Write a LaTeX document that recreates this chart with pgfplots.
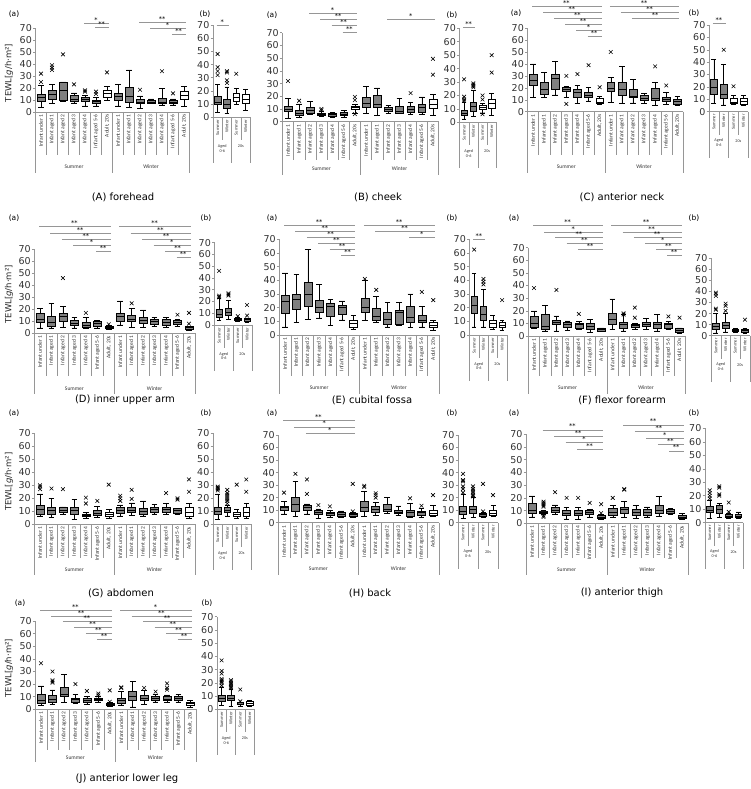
\documentclass[border=0pt]{standalone}
\usepackage{fontspec}
\setmainfont{DejaVu Sans}
\newfontfamily\catfont{Carlito}
\usepackage{pgfplots}
\pgfplotsset{compat=1.18}
\usepgfplotslibrary{statistics}
\definecolor{boxgray}{RGB}{128,128,128}
\definecolor{axgray}{RGB}{150,150,150}
\pgfplotsset{
  pan/.style={scale only axis, anchor=south west, ymin=0, ymax=70, ytick={0,10,...,70}, xtick=\empty,
    axis x line*=bottom, axis y line*=left, axis line style={axgray, line width=0.5pt, -},
    tick style={axgray, line width=0.5pt}, tick align=outside, major tick length=2.5pt,
    yticklabel style={font=\fontsize{9.5}{10}\selectfont, text=black!80, inner sep=1pt},
    /pgf/number format/assume math mode=true, clip=false, xmin=-0.5},
  panA/.style={pan, xmax=13.5},
  panB/.style={pan, xmax=3.5},
  boxplot/draw direction=y,
  boxplot/box extend=0.7, boxplot/whisker extend=0.5,
  gb/.style={draw=black, fill=boxgray, line width=0.45pt, mark=x, mark size=2.6pt, mark options={solid, draw=black, line width=0.6pt}},
  wb/.style={draw=black, fill=white, line width=0.45pt, mark=x, mark size=2.6pt, mark options={solid, draw=black, line width=0.6pt}},
}
\newcommand\bp[8]{\addplot[#7, boxplot prepared={draw position=#1, lower whisker=#2, lower quartile=#3, median=#4, upper quartile=#5, upper whisker=#6}] table[row sep=\\, y index=0] {v\\ #8};}
\newcommand\bpn[7]{\addplot[#7, boxplot prepared={draw position=#1, lower whisker=#2, lower quartile=#3, median=#4, upper quartile=#5, upper whisker=#6}] coordinates {};}
\newcommand\sig[4]{\draw[axgray, line width=0.5pt, shorten <=-1pt, shorten >=-2pt] (axis cs:#1,#3) -- node[above, inner sep=0.6pt, font=\fontsize{6.5}{6.5}\selectfont, text=black] {#4} (axis cs:#2,#3);}
\tikzset{
  catlab/.style={rotate=90, anchor=east, font=\catfont\fontsize{5.5}{6}\selectfont, inner sep=0.5pt, text=black!80},
  catlabB/.style={rotate=90, anchor=east, font=\catfont\fontsize{4.5}{5}\selectfont, inner sep=0.5pt, text=black!80},
  grplab/.style={font=\catfont\fontsize{5.5}{6}\selectfont, text=black!80, inner sep=0.5pt},
  grplabB/.style={font=\catfont\fontsize{4.2}{4.6}\selectfont, text=black!80, inner sep=0.5pt, align=center},
  ttl/.style={font=\fontsize{10}{11}\selectfont},
  sub/.style={font=\fontsize{7.5}{8}\selectfont},
}
% #1 xL, #2 pitch, #3 y0, #4 sep length, #5 group label offset, #6 group sep length
\newcommand\decoA[6]{%
  \foreach \k in {1,2,3,4,5,6,8,9,10,11,12,13} \draw[axgray, line width=0.4pt] ({#1+\k*#2},#3) -- ({#1+\k*#2},{#3+#4});
  \foreach \k in {0,7,14} \draw[axgray, line width=0.4pt] ({#1+\k*#2},#3) -- ({#1+\k*#2},{#3+#6});
  \foreach \t [count=\k from 0] in {Infant under 1,Infant aged 1,Infant aged 2,Infant aged 3,Infant aged 4,Infant aged 5-6,{Adult, 20s}} {
    \node[catlab] at ({#1+(\k+0.5)*#2},{#3+2}) {\t};
    \node[catlab] at ({#1+(\k+7.5)*#2},{#3+2}) {\t};
  }
  \node[grplab] at ({#1+3.5*#2},{#3+#5}) {Summer};
  \node[grplab] at ({#1+10.5*#2},{#3+#5}) {Winter};
}
\newcommand\decoB[3]{%
  \foreach \k in {1,3} \draw[axgray, line width=0.4pt] ({#1+\k*#2},#3) -- ({#1+\k*#2},{#3+23});
  \foreach \k in {0,2,4} \draw[axgray, line width=0.4pt] ({#1+\k*#2},#3) -- ({#1+\k*#2},{#3+46});
  \foreach \k in {0,2} {
    \node[catlabB] at ({#1+(\k+0.5)*#2},{#3+2}) {Summer};
    \node[catlabB] at ({#1+(\k+1.5)*#2},{#3+2}) {Winter};
  }
  \node[grplabB] at ({#1+1*#2},{#3+31}) {Aged\\0-6};
  \node[grplabB] at ({#1+3*#2},{#3+29}) {20s};
}
\newcommand\ylab[2]{\node[rotate=90, font=\fontsize{8.5}{9}\selectfont, text=black!85] at (9,{(#1+#2)/2+3}) {TEWL[\textit{g}/h·m²]};}
\begin{document}
\begin{tikzpicture}
\useasboundingbox (0pt,0pt) rectangle (750pt,789pt);
\begin{scope}[shift={(0pt,789pt)}, x=1pt, y=-1pt]
  \decoA{35.5}{11}{112}{43}{55}{61}
  \decoA{282.4}{11.15}{121.7}{38}{47}{53}
  \decoA{527.5}{11.1}{111.7}{43}{55}{61}
  \decoB{213}{9.3}{117.3}
  \decoB{459.5}{9.2}{122.3}
  \decoB{709}{9.8}{111.7}
  \decoA{34.3}{11.46}{333.3}{43}{55}{61}
  \decoA{279.3}{11.4}{335}{41}{53}{59}
  \decoA{528.4}{11.2}{336}{40}{52}{58}
  \decoB{214.5}{9.3}{325}
  \decoB{469.5}{9.3}{335}
  \decoB{711}{9.7}{335.7}
  \decoA{34.3}{11.46}{524.3}{34}{45}{51}
  \decoA{278.3}{11.46}{522.7}{35}{46}{52}
  \decoA{526.2}{11.54}{523.3}{35}{46}{52}
  \decoB{213}{9.5}{524.3}
  \decoB{458}{10}{522.7}
  \decoB{705}{9.5}{522.7}
  \decoA{35.3}{11.46}{709.3}{41}{48}{53}
  \decoB{217}{9.3}{709.3}
  \ylab{112}{28}
  \ylab{333.3}{249.3}
  \ylab{524.3}{433.3}
  \ylab{709.3}{621}
  \node[ttl] at (123,197) {(A) forehead};
  \node[ttl] at (378,197) {(B) cheek};
  \node[ttl] at (622,197) {(C) anterior neck};
  \node[ttl] at (125,400) {(D) inner upper arm};
  \node[ttl] at (372,400) {(E) cubital fossa};
  \node[ttl] at (622,400) {(F) flexor forearm};
  \node[ttl] at (121,593) {(G) abdomen};
  \node[ttl] at (370,593) {(H) back};
  \node[ttl] at (622,593) {(I) anterior thigh};
  \node[ttl] at (127,779) {(J) anterior lower leg};
  \node[sub] at (14,14) {(a)}; \node[sub] at (205,14) {(b)};
  \node[sub] at (272,15) {(a)}; \node[sub] at (452,15) {(b)};
  \node[sub] at (516,13) {(a)}; \node[sub] at (694,13) {(b)};
  \node[sub] at (14,218) {(a)}; \node[sub] at (206,218) {(b)};
  \node[sub] at (272,218) {(a)}; \node[sub] at (452,218) {(b)};
  \node[sub] at (514,218) {(a)}; \node[sub] at (694,218) {(b)};
  \node[sub] at (14,413) {(a)}; \node[sub] at (206,413) {(b)};
  \node[sub] at (272,413) {(a)}; \node[sub] at (452,413) {(b)};
  \node[sub] at (514,413) {(a)}; \node[sub] at (694,413) {(b)};
  \node[sub] at (20,603) {(a)}; \node[sub] at (207,603) {(b)};
\end{scope}

%================ (A) forehead
\begin{axis}[panA, at={(35.5pt,677pt)}, width=154pt, height=84pt]
\bp{0}{4}{9}{12.5}{15}{22}{gb}{25\\32\\}
\bp{1}{7}{11}{15}{18}{23}{gb}{35\\37\\39\\}
\bp{2}{9}{10}{18}{24.5}{25}{gb}{48\\}
\bp{3}{7.5}{9}{11}{14}{16}{gb}{23\\}
\bp{4}{5}{9}{10.5}{12}{14}{gb}{17\\18\\}
\bp{5}{5}{7.5}{9}{10}{12}{gb}{15\\17\\}
\bp{6}{9.5}{12.5}{15.5}{18}{21.5}{wb}{33\\}
\bpn{7}{5}{9.5}{13}{16}{23}{gb}
\bpn{8}{4}{8.5}{13}{21}{35}{gb}
\bp{9}{3}{7}{8.5}{10.5}{13.5}{gb}{18.5\\}
\bpn{10}{7}{7.5}{8.5}{10}{11}{gb}
\bp{11}{6}{7}{8.5}{11.5}{19.5}{gb}{34\\}
\bp{12}{6}{7.5}{8.5}{10}{11}{gb}{15.5\\}
\bpn{13}{5}{10.5}{14}{17.5}{21.5}{wb}
\sig{4}{6}{74}{*}
\sig{5}{6}{70.5}{**}
\sig{9}{13}{75}{**}
\sig{10}{13}{70}{*}
\sig{12}{13}{65}{**}
\end{axis}
\begin{axis}[panB, at={(213pt,671.7pt)}, width=37.2pt, height=92.3pt]
\bp{0}{4}{10}{11.5}{16}{25}{gb}{32\\35\\38\\48\\}
\bp{1}{3}{7}{10}{14}{23}{gb}{26\\28\\34\\35\\}
\bp{2}{10}{12.5}{15.5}{18}{22}{wb}{33\\}
\bpn{3}{5.5}{10.5}{14}{17.5}{21.5}{wb}
\sig{0}{1}{70}{*}
\end{axis}

%================ (B) cheek
\begin{axis}[panA, at={(282.4pt,667.3pt)}, width=156.1pt, height=89pt]
\bp{0}{2.5}{8}{10}{12}{18.5}{gb}{32\\}
\bp{1}{3.5}{5}{6.5}{9}{14}{gb}{16.5\\}
\bpn{2}{5.5}{7}{9}{11}{16}{gb}
\bp{3}{4.5}{5}{6}{7}{8.5}{gb}{9\\10\\}
\bpn{4}{3.5}{4.5}{5.5}{6.5}{7.5}{gb}
\bpn{5}{3.5}{5}{6}{7.5}{9}{gb}
\bp{6}{7}{9.5}{11}{12.5}{14}{wb}{6\\17\\19.5\\}
\bpn{7}{6.5}{11}{14.5}{19}{28}{gb}
\bpn{8}{5}{11}{14}{21}{26.5}{gb}
\bpn{9}{6.5}{8.5}{10}{11}{13}{gb}
\bpn{10}{7}{7}{8}{12}{18.5}{gb}
\bp{11}{6}{7.5}{10}{12}{15}{gb}{22.5\\}
\bpn{12}{6}{7.5}{11}{14}{19.5}{gb}
\bp{13}{5}{10.5}{14}{17.5}{21.5}{wb}{37\\49.5\\}
\sig{2}{6}{85}{*}
\sig{3}{6}{80.5}{**}
\sig{4}{6}{75.5}{**}
\sig{5}{6}{70}{**}
\sig{9}{13}{80.5}{*}
\end{axis}
\begin{axis}[panB, at={(459.5pt,666.7pt)}, width=36.8pt, height=94pt]
\bp{0}{2.5}{5}{7}{9}{15}{gb}{16\\17\\19\\32\\}
\bp{1}{4.5}{8.5}{12}{15}{24}{gb}{26\\27\\28\\29\\}
\bp{2}{7}{9.5}{11}{12.5}{14}{wb}{6\\17\\20\\}
\bp{3}{5}{10.5}{14}{17.5}{21.5}{wb}{37\\50\\}
\sig{0}{1}{71}{**}
\end{axis}

%================ (C) anterior neck
\begin{axis}[panA, at={(527.5pt,677.3pt)}, width=155.4pt, height=83.5pt]
\bpn{0}{12}{22.5}{26}{31}{40}{gb}
\bpn{1}{12}{15}{19}{25}{33}{gb}
\bpn{2}{14}{19}{28}{31}{42}{gb}
\bp{3}{12}{17}{19}{20.5}{21}{gb}{6.5\\30\\}
\bp{4}{7}{12.5}{16}{19}{22}{gb}{31.5\\}
\bp{5}{9}{12}{14}{16}{20.5}{gb}{39\\}
\bp{6}{6}{7}{8}{11}{13}{wb}{20.5\\}
\bp{7}{8}{17.5}{20}{25}{29}{gb}{50\\}
\bpn{8}{7}{14}{19}{25}{38}{gb}
\bpn{9}{7.5}{12}{13}{18.5}{27}{gb}
\bpn{10}{7}{9.5}{11.5}{14}{15.5}{gb}
\bp{11}{5.5}{9.5}{11}{20}{24.5}{gb}{38\\}
\bp{12}{6}{8.5}{10.5}{12}{16.5}{gb}{22\\}
\bpn{13}{5}{6}{8.5}{10.5}{13}{gb}
\sig{0}{6}{88}{**}
\sig{1}{6}{83}{**}
\sig{2}{6}{78.5}{**}
\sig{3}{6}{73.5}{**}
\sig{4}{6}{68.5}{*}
\sig{5}{6}{63.5}{**}
\sig{7}{13}{88}{**}
\sig{8}{13}{83}{**}
\sig{9}{13}{78.5}{**}
\end{axis}
\begin{axis}[panB, at={(709pt,677.3pt)}, width=39.2pt, height=86.7pt]
\bpn{0}{6.5}{14.5}{19.5}{26}{42}{gb}
\bp{1}{5.5}{10.5}{14.5}{22}{38}{gb}{50\\}
\bp{2}{6}{7}{8}{11}{13}{wb}{20.5\\}
\bpn{3}{5}{6}{8.5}{10.5}{13}{wb}
\sig{0}{1}{71.5}{**}
\end{axis}

%================ (D) inner upper arm
\begin{axis}[panA, at={(34.3pt,455.7pt)}, width=160.4pt, height=84pt]
\bpn{0}{4.5}{9}{12}{17}{21}{gb}
\bpn{1}{4.5}{6}{9}{14}{25}{gb}
\bp{2}{5}{10}{14}{17}{22.5}{gb}{46\\}
\bpn{3}{4.5}{6.5}{8.5}{11}{13}{gb}
\bp{4}{4}{5}{7}{9}{13}{gb}{17\\}
\bpn{5}{4.5}{5.5}{8}{10}{11}{gb}
\bp{6}{3.5}{4}{5}{6}{6.5}{gb}{7.5\\}
\bpn{7}{7}{10}{14}{17}{27}{gb}
\bp{8}{5}{10}{12}{15}{21}{gb}{25\\}
\bpn{9}{5}{8.5}{11}{13}{19.5}{gb}
\bpn{10}{6}{7.5}{10}{11.5}{13.5}{gb}
\bpn{11}{5}{7}{9}{11.5}{13.5}{gb}
\bp{12}{6}{7.5}{9}{10.5}{11.5}{gb}{15.5\\}
\bp{13}{2.5}{3.5}{5}{6}{6}{gb}{8\\17\\}
\sig{0}{6}{89}{**}
\sig{1}{6}{83.5}{**}
\sig{2}{6}{78.5}{**}
\sig{3}{6}{73.5}{*}
\sig{5}{6}{68}{**}
\sig{7}{13}{89}{**}
\sig{8}{13}{83.5}{**}
\sig{9}{13}{78.5}{**}
\sig{10}{13}{73.5}{*}
\sig{11}{13}{68.5}{**}
\sig{12}{13}{63.5}{**}
\end{axis}
\begin{axis}[panB, at={(214.5pt,464pt)}, width=37.2pt, height=82.3pt]
\bp{0}{4}{7}{9}{13}{23}{gb}{23.5\\24\\25\\46\\}
\bp{1}{4.5}{8}{11}{14}{21}{gb}{25\\26\\27\\}
\bp{2}{3.5}{4}{5}{6}{6.5}{gb}{7.5\\}
\bp{3}{2.5}{3.5}{5}{6}{6}{gb}{8\\17\\}
\end{axis}

%================ (E) cubital fossa
\begin{axis}[panA, at={(279.3pt,454pt)}, width=159.6pt, height=95.7pt]
\bpn{0}{6}{16}{25}{29}{45.5}{gb}
\bpn{1}{9}{19}{26}{30}{44.5}{gb}
\bpn{2}{11.5}{21}{30}{38.5}{62.5}{gb}
\bpn{3}{12.5}{16.5}{20}{25.5}{37}{gb}
\bpn{4}{7}{14}{21}{23.5}{26}{gb}
\bpn{5}{11}{15}{20}{22}{25}{gb}
\bpn{6}{4.5}{6}{8.5}{10.5}{14.5}{wb}
\bp{7}{10.5}{17}{20.5}{27}{40}{gb}{41\\}
\bp{8}{9.5}{10.5}{13.5}{19.5}{28.5}{gb}{33\\}
\bpn{9}{6}{8}{11.5}{16.5}{24}{gb}
\bpn{10}{7}{8}{17}{18}{24}{gb}
\bpn{11}{5.5}{9}{13}{21}{30}{gb}
\bp{12}{6}{9.5}{11}{14.5}{21}{gb}{31.5\\}
\bp{13}{3.5}{5.5}{7.5}{9.5}{10.5}{wb}{25.5\\}
\sig{0}{6}{80.5}{**}
\sig{1}{6}{76}{**}
\sig{2}{6}{71.5}{**}
\sig{3}{6}{67}{**}
\sig{4}{6}{62.5}{**}
\sig{5}{6}{58}{**}
\sig{7}{13}{80.5}{**}
\sig{8}{13}{76}{**}
\sig{11}{13}{71.5}{*}
\end{axis}
\begin{axis}[panB, at={(469.5pt,454pt)}, width=37.2pt, height=95.7pt]
\bp{0}{6}{16}{22}{28.5}{45}{gb}{62.5\\}
\bp{1}{6}{10.5}{15}{21}{33.5}{gb}{37\\39\\41\\}
\bpn{2}{4.5}{6}{8.5}{10.5}{14.5}{wb}
\bp{3}{3.5}{5.5}{7.5}{9.5}{10.5}{wb}{25.5\\}
\sig{0}{1}{70}{**}
\end{axis}

%================ (F) flexor forearm
\begin{axis}[panA, at={(528.4pt,453pt)}, width=156.8pt, height=88.3pt]
\bp{0}{6}{7}{10}{16}{20}{gb}{38\\}
\bpn{1}{4}{5.5}{8}{17}{24}{gb}
\bp{2}{4}{9}{11}{12.5}{16}{gb}{36.5\\}
\bpn{3}{4.5}{7}{9}{11}{12}{gb}
\bp{4}{5}{6}{9}{10.5}{11.5}{gb}{17.5\\}
\bpn{5}{3}{5}{7.5}{10.5}{13}{gb}
\bpn{6}{3.5}{4}{5}{6}{6.5}{gb}
\bpn{7}{5.5}{9}{13.5}{18}{29.5}{gb}
\bp{8}{4}{6.5}{9}{11}{17.5}{gb}{17\\18\\}
\bp{9}{5}{7}{8.5}{9}{10}{gb}{14.5\\22.5\\}
\bpn{10}{5.5}{7.5}{9.5}{11}{14}{gb}
\bpn{11}{4}{6.5}{9}{11}{17}{gb}
\bp{12}{5.5}{6.5}{9}{10.5}{11.5}{gb}{15.5\\}
\bp{13}{2.5}{3}{4.5}{6}{6.5}{gb}{14.5\\}
\sig{0}{6}{87.5}{**}
\sig{1}{6}{82.5}{*}
\sig{2}{6}{78}{**}
\sig{3}{6}{73.5}{**}
\sig{4}{6}{68.5}{**}
\sig{7}{13}{87.5}{**}
\sig{8}{13}{82.5}{**}
\sig{9}{13}{78}{**}
\sig{10}{13}{73.5}{*}
\sig{11}{13}{68.5}{**}
\sig{12}{13}{64}{**}
\end{axis}
\begin{axis}[panB, at={(711pt,453.3pt)}, width=38.8pt, height=77.4pt]
\bp{0}{2.5}{6}{9}{11}{20}{gb}{23.5\\24.5\\36\\38\\39\\}
\bp{1}{3.5}{7}{9.5}{12}{20}{gb}{22.5\\27\\29\\}
\bpn{2}{3.5}{4}{5}{6}{6.5}{gb}
\bp{3}{2.5}{3}{4.5}{6}{6.5}{gb}{14.5\\}
\end{axis}

%================ (G) abdomen
\begin{axis}[panA, at={(34.3pt,264.7pt)}, width=160.4pt, height=91pt]
\bp{0}{6.5}{8}{11.5}{15}{23.5}{gb}{27\\29\\30\\}
\bp{1}{5.5}{8}{11}{13.5}{20}{gb}{27.5\\}
\bp{2}{7.5}{9.5}{11}{13}{13.5}{gb}{27\\}
\bpn{3}{4}{7.5}{11}{13.5}{19}{gb}
\bp{4}{4.5}{6}{7}{8}{9}{gb}{16\\20.5\\}
\bp{5}{5.5}{7}{8.5}{11}{14}{gb}{18\\}
\bp{6}{5}{6.5}{8}{9.5}{11.5}{wb}{30.5\\}
\bp{7}{6.5}{8.5}{10.5}{13}{15}{gb}{18\\20\\22\\}
\bp{8}{7}{9}{11}{13}{16.5}{gb}{19.5\\26.5\\}
\bpn{9}{6.5}{8}{10}{12.5}{18}{gb}
\bpn{10}{8}{9.5}{11.5}{13.5}{15.5}{gb}
\bp{11}{7.5}{9}{11.5}{13.5}{16}{gb}{24\\}
\bp{12}{7.5}{8.5}{10.5}{12}{12}{gb}{19\\20\\}
\bp{13}{4.5}{6}{9.5}{13}{16}{wb}{25\\34.5\\}
\end{axis}
\begin{axis}[panB, at={(213pt,264.7pt)}, width=38pt, height=91pt]
\bp{0}{4}{8}{10}{13}{23.5}{gb}{26\\27\\28\\29\\}
\bp{1}{6.5}{9}{11}{13}{15}{gb}{16\\18\\19.5\\21\\22.5\\24\\26.5\\}
\bp{2}{5}{6.5}{8}{9.5}{11.5}{wb}{30.5\\}
\bp{3}{4.5}{6}{9.5}{13}{16}{wb}{25\\34.5\\}
\end{axis}

%================ (H) back
\begin{axis}[panA, at={(278.3pt,266.3pt)}, width=160.4pt, height=87.7pt]
\bp{0}{7}{10}{12}{13.5}{17}{gb}{24\\}
\bp{1}{5}{9}{15}{20}{33}{gb}{39\\}
\bp{2}{7}{10}{12}{14}{15}{gb}{23\\34.5\\}
\bp{3}{3.5}{6.5}{8.5}{10}{11}{gb}{14\\}
\bp{4}{4}{6}{7.5}{8.5}{10}{gb}{13\\}
\bpn{5}{4}{5}{6.5}{8.5}{9.5}{gb}
\bp{6}{4.5}{5.5}{6.5}{7.5}{8}{gb}{9\\31\\}
\bp{7}{5}{9}{12}{17}{25}{gb}{28.5\\29.5\\}
\bp{8}{6}{8.5}{11}{13.5}{16.5}{gb}{20\\22\\23.5\\}
\bpn{9}{7.5}{9}{11}{15}{20}{gb}
\bpn{10}{6}{7.5}{8.5}{10}{13.5}{gb}
\bp{11}{4.5}{5.5}{8}{10}{15.5}{gb}{19.5\\}
\bp{12}{4.5}{6}{8}{9.5}{11.5}{gb}{13.5\\}
\bp{13}{5}{6}{7.5}{10}{14}{wb}{22\\}
\sig{0}{6}{81.5}{**}
\sig{1}{6}{76.5}{*}
\sig{2}{6}{71.5}{*}
\end{axis}
\begin{axis}[panB, at={(458pt,266.3pt)}, width=40pt, height=87.7pt]
\bp{0}{3.5}{7}{9.5}{13}{22.5}{gb}{24\\27\\29\\33\\34\\39\\}
\bp{1}{4.5}{7.5}{10.5}{13.5}{20}{gb}{21\\22\\24\\25.5\\27\\29\\}
\bp{2}{4.5}{5.5}{6.5}{7.5}{8}{gb}{9\\31\\}
\bp{3}{5}{6}{7.5}{10}{14}{wb}{22\\}
\end{axis}

%================ (I) anterior thigh
\begin{axis}[panA, at={(526.2pt,265.7pt)}, width=161.5pt, height=89pt]
\bpn{0}{5}{8}{10}{16}{21.5}{gb}
\bp{1}{7}{8}{9}{9.5}{10}{gb}{5\\6\\13\\14\\15\\16\\17\\}
\bp{2}{7}{8.5}{10}{12.5}{14.5}{gb}{24.5\\}
\bp{3}{3.5}{6}{8}{10.5}{12.5}{gb}{20\\}
\bp{4}{3}{6}{8}{10}{12.5}{gb}{20\\}
\bp{5}{5}{7}{8.5}{10}{11}{gb}{16\\}
\bp{6}{3}{4}{5}{6.5}{7}{gb}{8\\15\\}
\bp{7}{4.5}{6.5}{9}{12}{14}{gb}{20\\}
\bp{8}{4.5}{8}{11}{13}{17}{gb}{26.5\\27\\}
\bpn{9}{4}{6.5}{8.5}{11}{14}{gb}
\bpn{10}{5}{6.5}{8.5}{11}{13}{gb}
\bpn{11}{5.5}{8}{10}{14}{21}{gb}
\bpn{12}{7}{8}{9.5}{11}{12}{gb}
\bpn{13}{3}{4}{5}{6}{8}{gb}
\sig{1}{6}{73.5}{**}
\sig{2}{6}{68.5}{**}
\sig{3}{6}{63.5}{*}
\sig{4}{6}{58.5}{**}
\sig{8}{13}{77.5}{**}
\sig{9}{13}{72.5}{**}
\sig{10}{13}{67}{*}
\sig{11}{13}{62}{**}
\sig{12}{13}{57}{**}
\end{axis}
\begin{axis}[panB, at={(705pt,266.3pt)}, width=38pt, height=94.4pt]
\bp{0}{3}{7.5}{9.5}{12}{17}{gb}{18\\20\\22\\24\\}
\bp{1}{4}{7}{10}{13}{14.5}{gb}{20\\21\\26\\27\\}
\bp{2}{3}{4}{5}{6.5}{7}{gb}{8\\15\\}
\bpn{3}{3}{4}{5}{6}{8}{gb}
\end{axis}

%================ (J) anterior lower leg
\begin{axis}[panA, at={(35.3pt,79.7pt)}, width=160.4pt, height=88.3pt]
\bp{0}{3}{5}{7}{12}{18.5}{gb}{36.5\\}
\bp{1}{4}{6}{8}{11}{15.5}{gb}{21\\22\\23\\30\\}
\bpn{2}{5.5}{10}{12}{17.5}{27.5}{gb}
\bp{3}{5}{6}{8}{9}{12}{gb}{20\\}
\bp{4}{4}{5.5}{7.5}{9}{10.5}{gb}{14.5\\}
\bp{5}{6}{7}{8}{9}{10}{gb}{11\\12.5\\}
\bp{6}{2.5}{3.5}{4}{5}{5.5}{gb}{6\\15\\}
\bp{7}{3.5}{5}{7}{9}{14}{gb}{17\\17.5\\}
\bpn{8}{2}{7}{10}{14}{22}{gb}
\bp{9}{4}{7}{8.5}{11}{15}{gb}{17\\}
\bp{10}{6}{7}{8.5}{10}{12}{gb}{14\\}
\bp{11}{5.5}{7}{8}{10}{11.5}{gb}{15.5\\17\\20.5\\}
\bpn{12}{6}{7}{8.5}{10.5}{12}{gb}
\bpn{13}{2}{3}{4.5}{6}{7}{wb}
\sig{0}{6}{78.5}{**}
\sig{1}{6}{74}{**}
\sig{2}{6}{69.5}{**}
\sig{3}{6}{65}{**}
\sig{4}{6}{60}{**}
\sig{5}{6}{55.5}{**}
\sig{7}{13}{78.5}{*}
\sig{8}{13}{74}{**}
\sig{9}{13}{69.5}{**}
\sig{10}{13}{65}{**}
\sig{11}{13}{60}{**}
\sig{12}{13}{55.5}{**}
\end{axis}
\begin{axis}[panB, at={(217pt,79.7pt)}, width=37.2pt, height=92.6pt]
\bp{0}{3}{6}{8}{11}{17}{gb}{18\\20\\21\\22\\23\\27\\29\\37\\}
\bp{1}{2}{6.5}{8.5}{11}{15}{gb}{16\\17\\18\\19\\20\\21\\22\\}
\bp{2}{2.5}{3.5}{4}{5}{5.5}{gb}{6\\15\\}
\bpn{3}{2}{3}{4.5}{6}{7}{wb}
\end{axis}
\end{tikzpicture}
\end{document}
